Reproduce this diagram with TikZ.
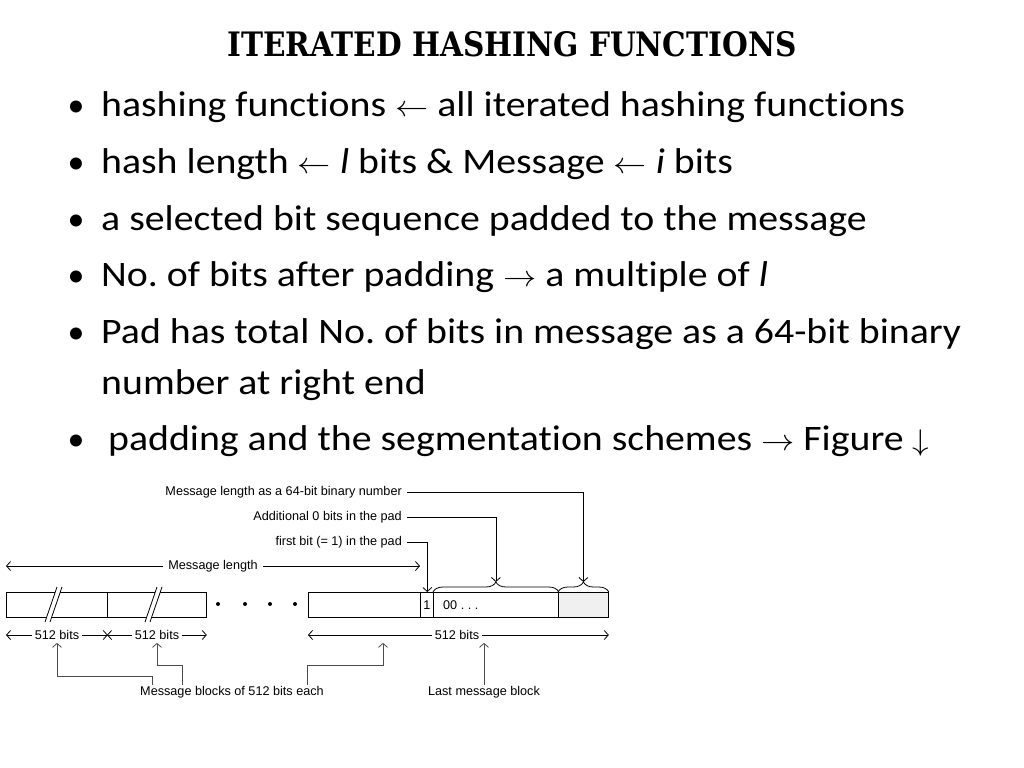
\RequirePackage{fix-cm}
\documentclass[tikz,border=0pt]{standalone}
\usepackage{fontspec}
\setmainfont[Ligatures={NoCommon}]{Carlito}
\newfontfamily\figfont{Liberation Sans}
\newfontfamily\titlefont{DejaVu Serif}
\frenchspacing
\usetikzlibrary{positioning, arrows.meta, decorations.pathreplacing}
\newcommand{\widetext}[1]{\scalebox{1.11}[1]{#1}}
\newcommand{\larr}{{\fontsize{30}{36}\selectfont$\leftarrow$}}
\newcommand{\rarr}{{\fontsize{30}{36}\selectfont$\rightarrow$}}
\newcommand{\darr}{{\fontsize{30}{36}\selectfont$\downarrow$}}
\tikzstyle{bodytext} = [anchor=base west, inner sep=0pt, font=\fontsize{36}{42}\selectfont]
\tikzstyle{dot} = [anchor=base, inner sep=0pt, font=\fontsize{34}{40}\selectfont]
\tikzstyle{figtext} = [inner sep=1pt, font=\figfont\fontsize{12.7}{15}\selectfont]
\tikzstyle{block} = [draw, line width=0.8bp, minimum height=25bp, inner sep=0pt, anchor=north west, font=\figfont\fontsize{12.7}{15}\selectfont]
\tikzstyle{arrow} = [line width=0.8bp, -{Straight Barb[length=4bp, width=9bp]}]
\tikzstyle{pointer} = [line width=0.8bp, -{Straight Barb[length=4bp, width=9bp]}, draw=black!70]

\begin{document}
\begin{tikzpicture}[x=1bp, y=-1bp]
\useasboundingbox (0,0) rectangle (1024,768);
			% Title
			\node (title) [anchor=base, inner sep=0pt] at (512,57) {\resizebox{569bp}{25bp}{\titlefont\bfseries ITERATED HASHING FUNCTIONS}};
			
			% Bullets
			\node (dotA) [dot] at (76,116) {\textbullet};
			\node (lineA) [bodytext] at (101,116) {\widetext{hashing functions \larr{} all iterated hashing functions}};
			\node (dotB) [dot] at (76,173) {\textbullet};
			\node (lineB) [bodytext] at (101,173) {\widetext{hash length \larr{} \textit{l} bits \& Message \larr{} \textit{i} bits}};
			\node (dotC) [dot] at (76,230) {\textbullet};
			\node (lineC) [bodytext] at (101,230) {\widetext{a selected bit sequence padded to the message}};
			\node (dotD) [dot] at (76,286.7) {\textbullet};
			\node (lineD) [bodytext] at (101,286.7) {\widetext{No. of bits after padding \rarr{} a multiple of \textit{l}}};
			\node (dotE) [dot] at (76,343.3) {\textbullet};
			\node (lineE) [bodytext] at (101,343.3) {\widetext{Pad has total No. of bits in message as a 64-bit binary}};
			\node (lineEE) [bodytext] at (101,394) {\widetext{number at right end}};
			\node (dotF) [dot] at (76,450.7) {\textbullet};
			\node (lineF) [bodytext] at (108,450.7) {\widetext{padding and the segmentation schemes \rarr{} Figure \darr}};
			
			% Blocks
			\node (blkA) [block, minimum width=101bp] at (6,592) {};
			\node (blkB) [block, minimum width=99bp] at (107,592) {};
			\node (blkC) [block, minimum width=112bp] at (308,592) {};
			\node (one) [block, minimum width=13bp] at (420,592) {1};
			\node (zeros) [block, minimum width=125bp] at (433,592) {};
			\node (lenfield) [block, minimum width=50bp, fill=black!6] at (558,592) {};
			\node (zerostext) [figtext, anchor=west] at ([xshift=9bp]zeros.west) {00 . . .};
			\foreach \x in {218,245,270,295}
				\fill (\x,604) circle (2bp);
			
			% Breaks
			\foreach \x in {45,145} {
				\fill[white] (\x,622) -- (\x+12,587) -- (\x+17,587) -- (\x+5,622) -- cycle;
				\draw[line width=0.8bp] (\x,622) -- (\x+12,587) (\x+5,622) -- (\x+17,587);
			}
			
			% Braces
			\draw[line width=0.8bp, decorate, decoration={brace, amplitude=10bp}] (zeros.north west) -- (zeros.north east);
			\draw[line width=0.8bp, decorate, decoration={brace, amplitude=10bp}] (lenfield.north west) -- (lenfield.north east);
			\coordinate (zerostip) at ([yshift=10bp]zeros.north);
			\coordinate (lentip) at ([yshift=10bp]lenfield.north);
			
			% Labels above
			\node (lenlbl) [figtext, anchor=east] at (403,492) {Message length as a 64-bit binary number};
			\node (padlbl) [figtext, anchor=east] at (403,517) {Additional 0 bits in the pad};
			\node (firstlbl) [figtext, anchor=east] at (403,542) {first bit (= 1) in the pad};
			\node (msglen) [figtext, inner xsep=5bp] at (213,566) {Message length};
			
			% Labels below
			\node (sizeA) [figtext, inner xsep=3bp] at (57,635) {512 bits};
			\node (sizeB) [figtext, inner xsep=3bp] at (157,635) {512 bits};
			\node (sizeC) [figtext, inner xsep=3bp] at (457,635) {512 bits};
			\node (blocks) [figtext] at (232,692) {Message blocks of 512 bits each};
			\node (lastblk) [figtext] at (484,692) {Last message block};
			
			% Arrows
			\draw [arrow] ([xshift=4bp]lenlbl.east) -| (lentip);
			\draw [arrow] ([xshift=4bp]padlbl.east) -| (zerostip);
			\draw [arrow] ([xshift=4bp]firstlbl.east) -| ([xshift=-6.5bp]one.north east);
			\draw [arrow] (msglen.west) -- (msglen -| blkA.west);
			\draw [arrow] (msglen.east) -- (msglen -| one.west);
			
			\draw [arrow] (sizeA.west) -- (sizeA -| blkA.west);
			\draw [arrow] (sizeA.east) -- (sizeA -| blkA.east);
			\draw [arrow] (sizeB.west) -- (sizeB -| blkB.west);
			\draw [arrow] (sizeB.east) -- (sizeB -| blkB.east);
			\draw [arrow] (sizeC.west) -- (sizeC -| blkC.west);
			\draw [arrow] (sizeC.east) -- (sizeC -| lenfield.east);
			
			\draw [pointer] ([xshift=-80bp]blocks.north) -- ++(0,-9) -| ([yshift=-2bp]sizeA.south);
			\draw [pointer] ([xshift=-50bp]blocks.north) -- ++(0,-20) -| ([yshift=-2bp]sizeB.south);
			\draw [pointer] ([xshift=75bp]blocks.north) -- ++(0,-20) -| ([xshift=-74bp, yshift=-2bp]sizeC.south);
			\draw [pointer] (lastblk.north) -- ([yshift=-2bp]lastblk.north |- sizeC.south);
\end{tikzpicture}
\end{document}
